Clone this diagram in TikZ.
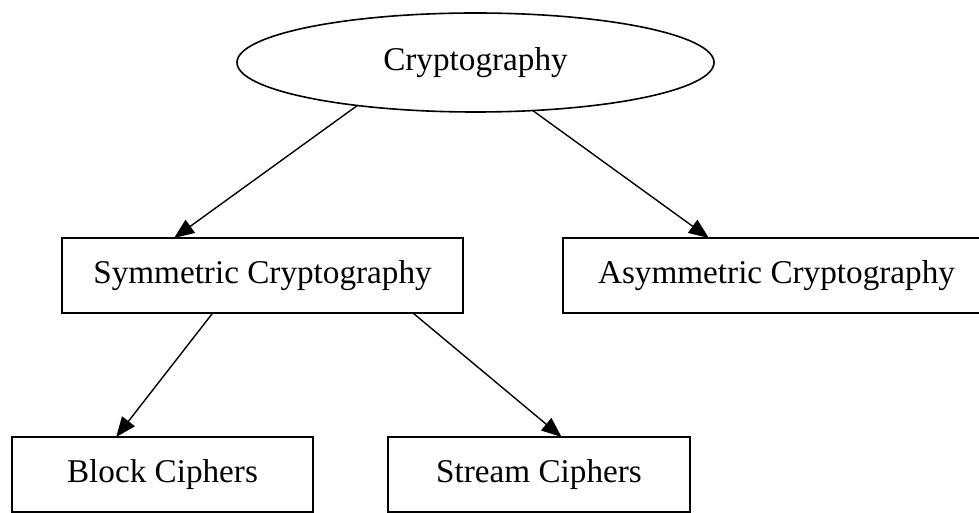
\documentclass[tikz,border=0pt]{standalone}
\usepackage{fontspec}
\setmainfont{Liberation Serif}
\usetikzlibrary{shapes.geometric,arrows.meta}
\begin{document}
\begin{tikzpicture}[x=0.5pt,y=-0.5pt,
  every node/.style={font=\fontsize{16.6}{20}\selectfont, draw, line width=0.8pt, inner sep=0pt, outer sep=0pt},
  ell/.style={ellipse, minimum width=238.5pt, minimum height=49.5pt},
  boxnode/.style={rectangle, minimum height=37.5pt},
  link/.style={line width=0.7pt, -{Triangle[length=10pt,width=8pt]}}]
\fill[white] (0,0) rectangle (979,513);
\useasboundingbox (0,0) rectangle (979,513);
\node[ell] (root) at (475.5,62.5) {Cryptography};
\node[boxnode, minimum width=200.5pt] (sym) at (262.5,275.5) {Symmetric Cryptography};
\node[boxnode, minimum width=213.5pt] (asym) at (776.5,275.5) {Asymmetric Cryptography};
\node[boxnode, minimum width=150.5pt] (block) at (162.5,474.5) {Block Ciphers};
\node[boxnode, minimum width=151pt] (stream) at (539,474.5) {Stream Ciphers};
\draw[link] (root.200.55) -- (sym.157.93);
\draw[link] (root.320.14) -- (asym.151.99);
\draw[link] (sym.217.15) -- (block.141.71);
\draw[link] (sym.346.19) -- (stream.59.60);
\end{tikzpicture}
\end{document}
